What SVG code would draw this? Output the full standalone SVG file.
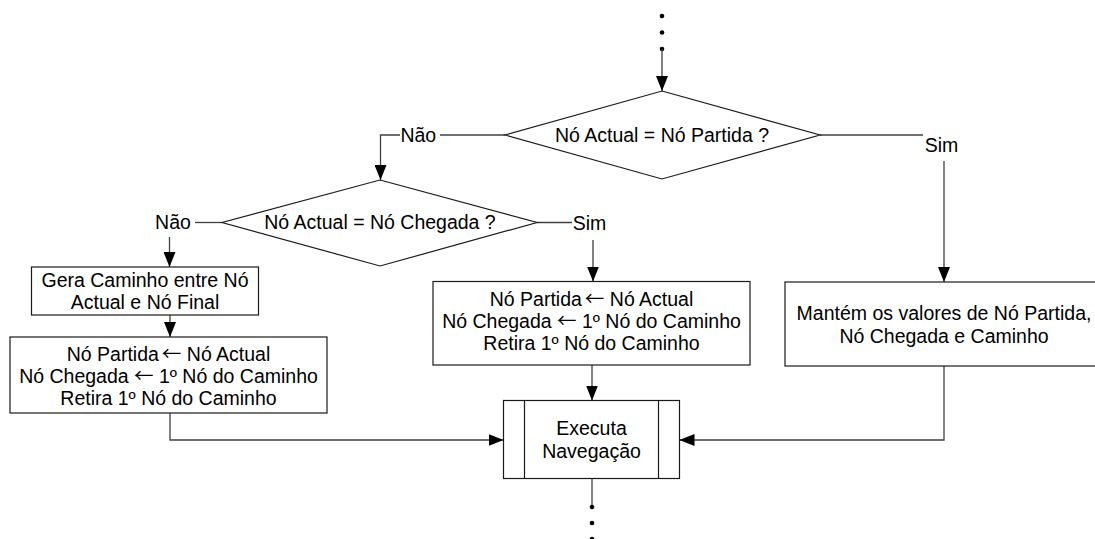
<svg xmlns="http://www.w3.org/2000/svg" width="1095" height="539" viewBox="0 0 1095 539">
<style>
.shape{fill:#fff;stroke:#1a1a1a;stroke-width:1.2}
.conn{fill:none;stroke:#404040;stroke-width:1.3}
text{font-family:"Liberation Sans",Arial,sans-serif;font-size:19.5px;fill:#000;text-anchor:middle}
.ar{font-family:"Noto Sans CJK JP","DejaVu Sans",sans-serif;font-size:19.5px}
.dot{fill:#000}
</style>
<defs>
<marker id="arr" markerUnits="userSpaceOnUse" markerWidth="15" markerHeight="12" viewBox="0 0 15 12" refX="15" refY="6" orient="auto">
<path d="M0,0 L15,6 L0,12 z" fill="#000"/>
</marker>
</defs>
<rect width="1095" height="539" fill="#fff"/>
<g id="connectors">
<circle class="dot" cx="662" cy="16" r="2.3"/>
<circle class="dot" cx="662" cy="32.5" r="2.3"/>
<circle class="dot" cx="662" cy="49" r="2.3"/>
<path class="conn" d="M662,49 V91" marker-end="url(#arr)"/>
<path class="conn" d="M505,135 H440"/>
<text x="418.3" y="142">Não</text>
<path class="conn" d="M400,135 H380.5 V180" marker-end="url(#arr)"/>
<path class="conn" d="M820,135 H923"/>
<text x="941.5" y="152">Sim</text>
<path class="conn" d="M944,161 V282" marker-end="url(#arr)"/>
<path class="conn" d="M222,222.5 H195"/>
<text x="173" y="229">Não</text>
<path class="conn" d="M169.5,237 V267" marker-end="url(#arr)"/>
<path class="conn" d="M537,222.5 H572"/>
<text x="589.5" y="230">Sim</text>
<path class="conn" d="M593,240 V281.5" marker-end="url(#arr)"/>
<path class="conn" d="M170,315 V337" marker-end="url(#arr)"/>
<path class="conn" d="M170,413 V440 H503.5" marker-end="url(#arr)"/>
<path class="conn" d="M592,365 V400.5" marker-end="url(#arr)"/>
<path class="conn" d="M944,366 V440 H679.5" marker-end="url(#arr)"/>
<path class="conn" d="M592,478.5 V507"/>
<circle class="dot" cx="592" cy="507" r="2.3"/>
<circle class="dot" cx="592" cy="523" r="2.3"/>
<circle class="dot" cx="592" cy="539" r="2.3"/>
</g>
<g id="decision1">
<polygon class="shape" points="662,91 820,135 662,179 505,135"/>
<text x="662" y="142">Nó Actual = Nó Partida ?</text>
</g>
<g id="decision2">
<polygon class="shape" points="380,180 537,222.5 380,266 222,222.5"/>
<text x="380" y="229">Nó Actual = Nó Chegada ?</text>
</g>
<g id="gera">
<rect class="shape" x="31.5" y="267" width="227" height="48"/>
<text x="145" y="287">Gera Caminho entre Nó</text>
<text x="145" y="309">Actual e Nó Final</text>
</g>
<g id="assign-left">
<rect class="shape" x="10" y="337" width="317" height="76"/>
<text x="168.5" y="361">Nó Partida<tspan class="ar" dx="3">←</tspan> Nó Actual</text>
<text x="168.5" y="383">Nó Chegada <tspan class="ar">←</tspan> 1º Nó do Caminho</text>
<text x="168.5" y="405">Retira 1º Nó do Caminho</text>
</g>
<g id="assign-mid">
<rect class="shape" x="433" y="281.5" width="317" height="83.5"/>
<text x="591.5" y="306">Nó Partida<tspan class="ar" dx="3">←</tspan> Nó Actual</text>
<text x="591.5" y="328">Nó Chegada <tspan class="ar">←</tspan> 1º Nó do Caminho</text>
<text x="591.5" y="350">Retira 1º Nó do Caminho</text>
</g>
<g id="mantem">
<rect class="shape" x="785" y="282" width="318" height="84"/>
<text x="944" y="320">Mantém os valores de Nó Partida,</text>
<text x="944" y="343">Nó Chegada e Caminho</text>
</g>
<g id="executa">
<rect class="shape" x="503.5" y="400.5" width="176" height="78"/>
<line class="shape" x1="524.5" y1="400.5" x2="524.5" y2="478.5"/>
<line class="shape" x1="658.5" y1="400.5" x2="658.5" y2="478.5"/>
<text x="591.5" y="434.5">Executa</text>
<text x="591.5" y="457.5">Navegação</text>
</g>
</svg>
